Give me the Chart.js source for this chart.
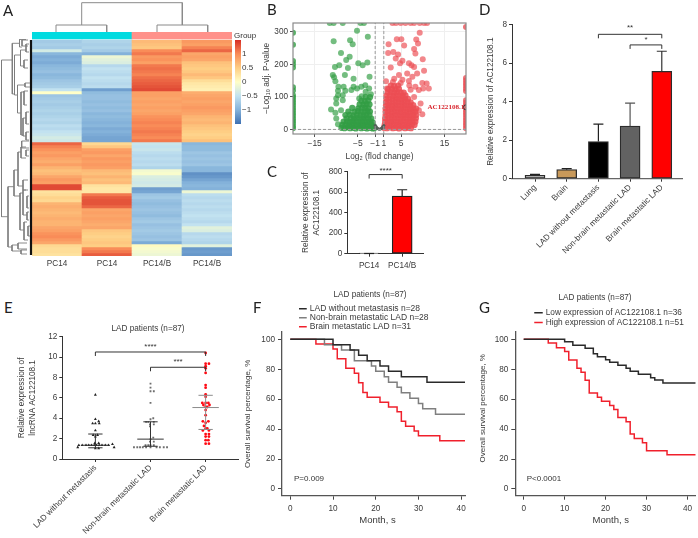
<!DOCTYPE html>
<html>
<head>
<meta charset="utf-8">
<title>AC122108.1</title>
<script src="https://cdn.jsdelivr.net/npm/chart.js@4"></script>
<style>
  body { margin: 0; background: #fff; width: 698px; height: 538px; overflow: hidden; position: relative; }
  canvas { position: absolute; }
  .tag { position: absolute; font-family: "Liberation Sans", sans-serif; color: #333; white-space: nowrap; line-height: 1; }
  .letter { font-family: Lato, sans-serif; font-size: 15px; color: #222; }
</style>
</head>
<body>
<script>
// A: heatmap rows, top to bottom
const heatLabels = ["PC14", "PC14", "PC14/B", "PC14/B"];
const heatCol1 = [-0.75,-0.7,-0.75,-0.35,-0.95,-1.05,-1.0,-1.05,-0.95,-0.9,-0.85,-0.95,-0.9,-0.8,-0.75,-0.7,-0.5,0.0,-0.8,-0.75,-0.7,-0.75,-0.7,-0.65,-0.7,-0.65,-0.6,-0.65,-0.55,-0.6,-0.5,-0.45,-0.35,-0.4,
  1.2,1.05,0.95,0.85,0.9,0.8,0.75,0.85,0.7,0.6,0.65,0.8,0.9,0.85,1.35,1.35,0.3,0.35,0.45,0.4,0.7,0.75,0.7,0.65,0.7,0.75,0.7,0.7,0.8,0.85,0.95,1.0,0.9,0.8,0.4,0.35,0.35,0.3];
const heatCol2 = [-0.65,-0.7,-0.65,-0.75,-1.0,-0.15,-0.25,-0.3,-0.6,-0.5,-0.55,-0.6,-0.5,-0.55,-0.6,-0.55,-1.15,-0.9,-0.85,-0.85,-0.9,-0.85,-0.9,-0.85,-0.95,-0.9,-0.95,-1.0,-0.95,-1.05,-1.0,-1.05,-1.1,-1.1,
  0.4,0.55,0.85,0.9,0.8,0.9,0.85,0.9,0.85,0.65,0.6,0.7,0.6,0.65,0.3,0.25,0.25,1.1,1.25,1.3,1.3,1.2,0.8,0.85,0.8,0.85,0.8,0.75,0.8,0.55,0.5,0.45,0.5,0.55,0.5,1.0,1.1,1.25];
const heatCol3 = [0.65,0.6,0.55,1.0,1.1,0.9,0.95,0.85,1.1,1.15,1.1,1.05,1.15,1.2,1.25,1.3,1.35,0.85,0.85,0.8,0.85,0.8,0.85,0.8,0.85,0.95,1.0,1.05,1.0,1.05,1.1,1.05,1.0,1.1,
  -0.45,-0.5,-0.45,-0.55,-0.6,-0.55,-0.6,-0.55,-0.65,-0.1,-0.05,-0.3,-0.35,-0.4,-0.35,-1.15,-1.1,-0.8,-0.75,-0.85,-0.9,-0.85,-0.8,-0.85,-0.9,-0.8,-0.75,-0.85,-0.8,-0.75,-0.8,-0.85,-0.8,-1.05,0.05,-0.05,-0.1,-0.15];
const heatCol4 = [0.9,0.85,1.05,1.2,0.8,0.85,0.8,0.6,0.55,0.5,0.55,0.65,0.55,0.35,0.25,0.2,0.15,0.75,0.8,0.85,0.8,0.85,0.9,0.85,0.8,0.7,0.65,0.7,0.6,0.55,0.5,0.45,0.5,0.6,
  -0.95,-0.9,-0.9,-0.8,-0.85,-0.8,-0.85,-0.8,-0.95,-0.95,-1.25,-1.2,-1.1,-1.0,-0.95,-1.0,-0.15,-0.55,-0.6,-0.55,-0.6,-0.55,-0.6,-0.55,-0.5,-0.55,-0.6,-0.5,-0.25,-0.3,-0.6,-0.55,-0.6,-0.65,-0.25,-1.2,-1.15,-1.2];
const groupColors = ["#00dbe0", "#00dbe0", "#ff918a", "#ff918a"];
const heatLegendTicks = [1, 0.5, 0, -0.5, -1];

// A: dendrograms, elbows as [stem, from, to, child1, child2]
const rowElbows = [[1.5,60,216.7,12.3,8],[12.3,43.3,94,19.5,14.5],[19.5,39.5,47,26,22],[14.5,55,95,20.5,17.5],[20.5,50,66,26,24],[24,60,68,28,28],[17.5,85,113,25,21],[25,83,87,30,30],[21,92,135,24,23],[24,91,105,28,27],[23,118,136,26,26],[26,112,124,29,29],[26,132,140,29,29],[21.7,141,148,29,29],[22,40,46,28,28],[26,44,52,29,29],
  [8,186.7,247,14,12],[14,170,196,18,20],[18,152,186,21,23],[21,147,158,26,26],[23,180,190,28,28],[20,193,230,23,24],[23,190,215,26,27],[24,222,240,27,28],[12,245,251,18,21],[18,243,249,27,27],[21,250,254,27,27],[26,150,156,29,29],[27,196,208,29,29],[27,212,220,29,29],[28,226,236,30,30]];
const colElbows = [[2.7,81.7,182.3,25,25],[25,56,106.7,32,32],[25,157,207.7,32,32]];

// B: volcano points, [log2 fold change, -log10 p]
const greenSpread = [[-11.5,327],[-10.6,327],[-8.5,327],[-4.4,327],[-3.6,327],[-5.2,303],[-2.7,285],[-10.6,271],[-6.8,274],[-6.2,262],[-8.9,235],[-6.9,223],[-7.7,213],[-4.9,203],[-3.9,197],[-2.8,206],[-9.3,197],[-10.3,192],[-7.3,189],[-8,167],[-10.8,167],[-10.5,160],[-10.2,148],[-6,156],[-2.3,162],[-3.3,136],[-4.2,131],[-6,131],[-6.5,121],[-9.5,131],[-8.3,131],[-7.9,119],[-9.6,119],[-2.4,126],[-3.2,116],[-2,108],[-8.5,105],[-9.6,105],[-5.2,126],[-4.1,102],[-4.7,95],[-10,95],[-8.5,90],[-10,80],[-11.2,61],[-10.2,51],[-8.9,59],[-10,34],[-9.6,16]];
const greenDense = [[-8.8,5],[-8.1,4],[-7.4,6],[-6.8,4],[-6.1,5],[-5.5,3],[-4.8,6],[-4.2,4],[-3.5,5],[-2.9,3],[-2.2,5],[-1.6,3],[-1.2,4],
  [-8.6,14],[-7.8,15],[-7.1,13],[-6.4,15],[-5.8,14],[-5.1,13],[-4.4,15],[-3.8,14],[-3.1,15],[-2.5,13],[-1.9,14],[-1.4,12],
  [-8.3,24],[-7.5,25],[-6.8,23],[-6.1,25],[-5.4,24],[-4.7,23],[-4,25],[-3.3,24],[-2.7,23],[-2.1,25],[-1.6,22],
  [-7.6,34],[-6.6,35],[-5.9,33],[-5.2,35],[-4.5,34],[-3.8,33],[-3.2,35],[-2.6,34],[-1.9,33],
  [-7.9,44],[-6.9,45],[-6,43],[-5.2,45],[-4.4,44],[-3.7,43],[-3,45],[-2.3,44],
  [-7.2,55],[-5.8,54],[-5,56],[-4.2,55],[-3.5,54],[-2.8,56],[-2.2,55],
  [-6.3,66],[-4.9,65],[-4,67],[-3.3,66],[-2.6,65],
  [-4.6,77],[-3.7,76],[-3,78],[-2.3,77],[-4.2,88],[-3.4,87],[-2.6,89],[-3.2,100],[-2.2,99]];
const greenEdge = [[-20,297],[-20,260],[-20,210],[-20,200],[-20,190],[-20,130],[-20,120],[-20,105],[-20,98],[-20,90],[-20,82],[-20,74],[-20,66],[-20,58],[-20,50],[-20,42],[-20,34],[-20,26],[-20,18],[-20,10],[-20,4]];
const redSpread = [[3,327],[3.8,327],[4.9,327],[6,327],[7.2,327],[8,327],[9.3,327],[10.3,327],[11,327],[9.3,297],[4,277],[5.05,277],[8.5,276],[8.9,264],[2.1,262],[5.7,258],[8,247],[8.3,233],[2,235],[3.2,238],[4.3,230],[3.75,218],[10,216],[5.3,211],[6.8,203],[7.4,197],[4.75,203],[2.6,190],[8,192],[10.3,180],[4.5,167],[6.4,172],[8.7,172],[7.6,162],[1.5,148],[3.4,156],[5.3,153],[6.8,149],[9.9,143],[10.9,141],[11.4,126],[8.3,131],[10.1,126],[9.1,121],[1.7,126],[9.9,47],[9.1,59],[9.5,80],[8,100],[7.2,122],[6.9,135],[4.9,143],[3.1,146]];
const redDense = [[1,5],[1.7,4],[2.4,6],[3.1,4],[3.8,5],[4.5,3],[5.2,6],[5.9,4],[6.6,5],[7.3,4],
  [1.2,14],[1.9,15],[2.6,13],[3.3,15],[4,14],[4.7,13],[5.4,15],[6.1,14],[6.8,13],[7.5,15],[8.1,14],
  [1.3,24],[2,25],[2.7,23],[3.4,25],[4.1,24],[4.8,23],[5.5,25],[6.2,24],[6.9,23],[7.6,25],[8.3,24],
  [1.3,34],[2.1,35],[2.8,33],[3.5,35],[4.2,34],[4.9,33],[5.6,35],[6.3,34],[7,33],[7.7,35],[8.4,34],
  [1.4,44],[2.2,45],[2.9,43],[3.6,45],[4.3,44],[5,43],[5.7,45],[6.4,44],[7.1,43],[7.8,45],[8.5,44],
  [1.4,54],[2.1,55],[2.8,53],[3.5,55],[4.2,54],[4.9,53],[5.6,55],[6.3,54],[7,53],[7.7,55],[8.3,54],
  [1.4,64],[2.2,65],[2.9,63],[3.6,65],[4.3,64],[5,63],[5.7,65],[6.4,64],[7.1,63],[7.8,65],[8.5,64],
  [1.5,74],[2.2,75],[2.9,73],[3.6,75],[4.3,74],[5,73],[5.7,75],[6.4,74],[7.1,73],[7.8,75],
  [1.5,84],[2.3,85],[3,83],[3.7,85],[4.4,84],[5.1,83],[5.8,85],[6.5,84],[7.2,83],
  [1.6,94],[2.3,95],[3.1,93],[3.8,95],[4.5,94],[5.2,93],[5.9,95],[6.6,94],
  [1.6,104],[2.4,105],[3.2,103],[3.9,105],[4.6,104],[5.3,103],[6,105],
  [1.9,114],[2.6,115],[3.4,113],[4.1,115],[4.9,114],[5.6,113],
  [2,124],[2.9,125],[3.7,123],[4.5,125],[2.6,135],[3.4,133],[4.3,135]];
const redEdge = [[20,315],[20,158],[20,150],[20,142],[20,134],[20,126],[20,118],[20,90],[20,82],[20,74],[20,60],[20,52],[20,44],[20,36],[20,28],[20,20],[20,12],[20,4]];
const nearZero = [[-1,12],[-0.75,8],[-0.45,3],[-0.15,1],[0.15,1],[0.45,3],[0.75,8],[1,12],[-0.9,5],[0.9,5]];
const marked = [[20,68]];
const bXTicks = [-15, -5, -1, 1, 5, 15];
const bYTicks = [0, 100, 200, 300];

// C
const cLabels = ["PC14", "PC14/B"];
const cValues = [2, 563];
const cUpper = [2, 624];
const cYTicks = [0, 200, 400, 600, 800];

// D
const dLabels = ["Lung", "Brain", "LAD without metastasis", "Non-brain metastatic LAD", "Brain metastatic LAD"];
const dValues = [0.18, 0.47, 1.93, 2.73, 5.58];
const dUpper = [0.22, 0.52, 2.83, 3.93, 6.62];
const dColors = ["#c4c4c4", "#c8995a", "#000000", "#626262", "#ff0000"];
const dYTicks = [0, 2, 4, 6, 8];

// E: each group is [offset from group centre, value]
const eLabels = ["LAD without metastasis", "Non-brain metastatic LAD", "Brain metastatic LAD"];
const eGroup1 = [[0,6.3],[0,3.9],[0.06,3.7],[-0.05,3.5],[0,3.5],[0.07,3.5],[0,2.8],[-0.04,2.35],[0.04,2.35],[0,2.2],[-0.01,1.55],[0.06,1.55],[-0.3,1.35],[-0.24,1.35],[-0.17,1.35],[-0.12,1.35],[-0.07,1.35],[-0.02,1.35],[0.02,1.35],[0.07,1.35],[0.12,1.35],[0.18,1.35],[0.24,1.35],[-0.32,1.15],[0,1.05],[0.06,1.05],[0.34,1.15],[0.31,1.45]];
const eGroup2 = [[0,7.4],[0,7],[0,6.65],[0.06,6.65],[0,5.5],[0.05,4],[0,3.9],[-0.08,3.65],[-0.04,3.65],[0.06,3.65],[-0.01,3.4],[0.06,3.4],[-0.01,3.2],[0.05,2.1],[0,1.95],[-0.01,1.7],[0.06,1.7],[-0.09,1.35],[-0.04,1.35],[0,1.35],[0.06,1.35],[-0.3,1.15],[-0.24,1.15],[-0.19,1.15],[-0.14,1.15],[-0.08,1.15],[0,1.15],[0.11,1.15],[0.17,1.15],[0.24,1.15],[0.3,1.15]];
const eGroup3 = [[0,10.4],[0,9.35],[0.06,9.35],[0,9.1],[0,8.9],[0,8.45],[0,7.25],[0,7],[0,6.35],[0,6.1],[-0.06,5.5],[0,5.5],[0.05,5.5],[-0.04,5.3],[0.07,5.3],[0,5.1],[0.03,5.1],[0,4.8],[0,4.3],[-0.05,3.7],[0.05,3.7],[0,3.55],[-0.03,3.25],[0,3],[0.03,3],[-0.05,2.8],[0.06,2.8],[0,2.45],[0.06,2.45],[0,2.2],[0.06,2.2],[0,1.85],[0.05,1.85],[0,1.5],[0.06,1.5]];
const eMedian = [1.35, 1.95, 5.05];
const eLow = [1.1, 1.25, 2.9];
const eHigh = [2.45, 3.65, 6.25];
const eYTicks = [0, 2, 4, 6, 8, 10, 12];

// F: survival, month at which each level starts
const fMonths1 = [0,10,14,16,18,21,23,26,32,41];
const fSurv1 = [100,96.4,92.9,89.3,85.7,82.1,78.6,75,71.4,71.4];
const fMonths2 = [0,8,12,15,19,20,22,23,25,26,28,30,31,34,41];
const fSurv2 = [100,96.4,92.9,85.7,82.1,78.6,75,71.4,67.9,64.3,60.7,57.1,53.6,50,50];
const fMonths3 = [0,6,10,11,13,15,16,17,18,21,23,25,26,27,29,30,35,41];
const fSurv3 = [100,96.8,93.5,87,80.6,77.4,71,64.5,61.3,58,54.8,51.6,45.2,41.9,38.7,35.5,32.3,32.3];

// G
const gMonths1 = [0,10,12,15,17,18,20,21,23,25,26,28,31,32,34,42];
const gSurv1 = [100,98.4,96,94,90.4,88.4,86.4,84.7,82.7,80.7,78.7,76.7,74.4,72.9,70.9,70.9];
const gMonths2 = [0,6,8,10,11,13,14,15,16,18,19,21,22,23,25,26,27,29,30,35,42];
const gSurv2 = [100,97.5,94.4,91.8,86.2,80.7,78,72.7,64.2,61.3,58.7,55.8,53.1,47.8,44.9,36.7,33.8,30.9,25.6,22.9,22.9];
const monthTicks = [0, 10, 20, 30, 40];
const survTicks = [0, 20, 40, 60, 80, 100];

const FONT = "'Liberation Sans', Arial, sans-serif";
const INK = "#3a3a3a";
Chart.defaults.font.family = FONT;
Chart.defaults.color = INK;

// z score to heatmap colour
const heatStops = [[-1.5,[62,112,178]],[-1,[132,178,218]],[-0.5,[194,226,240]],[0,[255,255,200]],[0.5,[254,206,132]],[1,[249,140,88]],[1.5,[214,46,38]]];
function heatColor(v) {
    for (let i = 1; i < heatStops.length; i++) {
        if (v <= heatStops[i][0]) {
            const a = heatStops[i - 1];
            const b = heatStops[i];
            const t = (v - a[0]) / (b[0] - a[0]);
            const c = a[1].map((n, k) => Math.round(n + (b[1][k] - n) * t));
            return `rgb(${c[0]},${c[1]},${c[2]})`;
        }
    }
    return "rgb(214,46,38)";
}

function pairs(list) {
    return list.map((p) => ({ x: p[0], y: p[1] }));
}

function steps(months, surv) {
    return months.map((m, i) => ({ x: m, y: surv[i] }));
}

// axis with ticks only where asked
function axis(values, extra) {
    const o = Object.assign({
        type: "linear",
        offset: false,
        afterBuildTicks: (s) => { s.ticks = values.map((v) => ({ value: v })); },
        border: { color: "#333", width: 1 },
        grid: { drawOnChartArea: false, offset: false, color: "#333", tickLength: 3 },
    }, extra);
    o.ticks = Object.assign({ autoSkip: false, maxRotation: 0, padding: 2, font: { size: 8.2 }, color: INK }, extra.ticks);
    return o;
}

// puts the plot area at page coordinates
function place(box, plot, cfg) {
    const c = document.createElement("canvas");
    c.width = box.w;
    c.height = box.h;
    c.style.left = box.x + "px";
    c.style.top = box.y + "px";
    document.body.appendChild(c);
    const o = cfg.options;
    o.responsive = false;
    o.animation = false;
    const pad = { left: 0, right: box.x + box.w - plot.r, top: plot.t - box.y, bottom: 0 };
    if (o.scales.x.display === false) {
        pad.bottom = box.y + box.h - plot.b;
    } else {
        o.scales.x.afterFit = (s) => { s.height = box.y + box.h - plot.b; };
    }
    if (o.scales.y.display === false) {
        pad.left = plot.l - box.x;
    } else if (o.scales.y.position === "right") {
        pad.left = plot.l - box.x;
        pad.right = 0;
        o.scales.y.afterFit = (s) => { s.width = box.x + box.w - plot.r; };
    } else {
        o.scales.y.afterFit = (s) => { s.width = plot.l - box.x; };
    }
    o.layout = { padding: pad };
    o.plugins = Object.assign({ legend: { display: false }, tooltip: { enabled: false } }, o.plugins);
    const chart = new Chart(c, cfg);
    const diff = plot.t - box.y - chart.chartArea.top;
    if (Math.abs(diff) > 0.01) {
        chart.options.layout.padding.top += diff;
        chart.update();
    }
    return chart;
}

// moves title and legend where they sit on the page
function placeHead(box, titleX, titleY, legendX, legendY) {
    return {
        id: "placeHead",
        afterLayout(ch) {
            const t = ch.titleBlock;
            t.left = titleX - box.x - t.width / 2;
            t.right = t.left + t.width;
            t.top = titleY - box.y - t.height / 2;
            t.bottom = t.top + t.height;
            const l = ch.legend;
            const w = l.width;
            l.left = legendX - box.x;
            l.right = l.left + w;
            l.top = legendY - box.y;
            l.bottom = l.top + l.height;
        },
    };
}

function upperBars(upper, colors, capWidth) {
    return {
        id: "upperBars",
        afterDatasetsDraw(ch) {
            const ctx = ch.ctx;
            upper.forEach((u, i) => {
                const x = ch.scales.x.getPixelForValue(i);
                const y0 = ch.scales.y.getPixelForValue(ch.data.datasets[0].data[i].y);
                const y1 = ch.scales.y.getPixelForValue(u);
                ctx.save();
                ctx.strokeStyle = colors[i];
                ctx.lineWidth = 1.2;
                ctx.beginPath();
                ctx.moveTo(x, y0);
                ctx.lineTo(x, y1);
                ctx.moveTo(x - capWidth, y1);
                ctx.lineTo(x + capWidth, y1);
                ctx.stroke();
                ctx.restore();
            });
        },
    };
}

function brackets(list) {
    return {
        id: "brackets",
        afterDraw(ch) {
            const ctx = ch.ctx;
            ctx.save();
            ctx.strokeStyle = "#333";
            ctx.fillStyle = "#333";
            ctx.lineWidth = 1;
            ctx.font = "8px " + FONT;
            ctx.textAlign = "center";
            ctx.textBaseline = "middle";
            for (let b of list) {
                const x0 = ch.scales.x.getPixelForValue(b.from);
                const x1 = ch.scales.x.getPixelForValue(b.to);
                const y = ch.scales.y.getPixelForValue(b.at);
                ctx.beginPath();
                ctx.moveTo(x0, y + 4);
                ctx.lineTo(x0, y);
                ctx.lineTo(x1, y);
                ctx.lineTo(x1, y + 4);
                ctx.stroke();
                ctx.fillText(b.label, (x0 + x1) / 2, y - b.lift);
            }
            ctx.restore();
        },
    };
}

const frame = {
    id: "frame",
    afterDatasetsDraw(ch) {
        const a = ch.chartArea;
        ch.ctx.save();
        ch.ctx.strokeStyle = "#8a8a8a";
        ch.ctx.lineWidth = 1.2;
        ch.ctx.strokeRect(a.left, a.top, a.right - a.left, a.bottom - a.top);
        ch.ctx.restore();
    },
};

const iqrLines = {
    id: "iqrLines",
    afterDatasetsDraw(ch) {
        const ctx = ch.ctx;
        const sx = ch.scales.x;
        const sy = ch.scales.y;
        ctx.save();
        ctx.lineWidth = 1;
        eMedian.forEach((m, i) => {
            const x = sx.getPixelForValue(i);
            ctx.strokeStyle = i == 2 ? "#8c8c8c" : "#333";
            ctx.beginPath();
            ctx.moveTo(x, sy.getPixelForValue(eLow[i]));
            ctx.lineTo(x, sy.getPixelForValue(eHigh[i]));
            ctx.moveTo(sx.getPixelForValue(i - 0.24), sy.getPixelForValue(m));
            ctx.lineTo(sx.getPixelForValue(i + 0.24), sy.getPixelForValue(m));
            for (let q of [eLow[i], eHigh[i]]) {
                ctx.moveTo(sx.getPixelForValue(i - 0.13), sy.getPixelForValue(q));
                ctx.lineTo(sx.getPixelForValue(i + 0.13), sy.getPixelForValue(q));
            }
            ctx.stroke();
        });
        ctx.restore();
    },
};

// panel A heatmap
const heatColumns = [heatCol1, heatCol2, heatCol3, heatCol4];
const heatSets = [{
    data: heatLabels.map(() => [-2.667, -0.33]),
    backgroundColor: groupColors,
    grouped: false, barPercentage: 1, categoryPercentage: 1,
}];
for (let r = 0; r < heatCol1.length; r++) {
    heatSets.push({
        data: heatLabels.map(() => [r, r + 1]),
        backgroundColor: heatColumns.map((col) => heatColor(col[r])),
        grouped: false, barPercentage: 1, categoryPercentage: 1,
    });
}
place({ x: 0, y: 25, w: 240, h: 248 }, { l: 32, t: 32, r: 232, b: 256 }, {
    type: "bar",
    data: { labels: heatLabels, datasets: heatSets },
    options: {
        scales: {
            x: {
                grid: { display: false, drawTicks: false }, border: { display: false },
                ticks: { autoSkip: false, maxRotation: 0, padding: 3, font: { size: 8.2 }, color: INK },
            },
            y: { display: false, type: "linear", reverse: true, min: -2.667, max: 72 },
        },
    },
});

// panel A colour key
const keyBox = { x: 230, y: 30, w: 32, h: 100 };
place(keyBox, { l: 235, t: 40, r: 241, b: 124 }, {
    type: "bar",
    data: {
        labels: ["key"],
        datasets: [{
            data: [[-1.5, 1.5]],
            barPercentage: 1, categoryPercentage: 1,
            backgroundColor: (ctx) => {
                const a = ctx.chart.chartArea;
                if (!a) return "#fff";
                const g = ctx.chart.ctx.createLinearGradient(0, a.bottom, 0, a.top);
                heatStops.forEach((s) => g.addColorStop((s[0] + 1.5) / 3, heatColor(s[0])));
                return g;
            },
        }],
    },
    options: {
        scales: {
            x: { display: false },
            y: axis(heatLegendTicks, {
                position: "right", min: -1.5, max: 1.5,
                border: { display: false },
                grid: { display: false, drawTicks: false },
                ticks: { padding: 1, font: { size: 8 }, callback: (v) => String(v).replace("-", "\u2212") },
            }),
        },
    },
});

// panel A dendrograms, data units match the 260 x 270 block
function elbowsToRow(list) {
    const out = [];
    for (let e of list) {
        out.push({ x: e[3], y: e[1] }, { x: e[0], y: e[1] }, { x: e[0], y: e[2] }, { x: e[4], y: e[2] }, { x: NaN, y: NaN });
    }
    return out;
}
function elbowsToCol(list) {
    const out = [];
    for (let e of list) {
        out.push({ x: e[1], y: e[3] }, { x: e[1], y: e[0] }, { x: e[2], y: e[0] }, { x: e[2], y: e[4] }, { x: NaN, y: NaN });
    }
    return out;
}
place({ x: 0, y: 0, w: 260, h: 270 }, { l: 0, t: 0, r: 260, b: 270 }, {
    type: "scatter",
    data: {
        datasets: [
            { data: elbowsToRow(rowElbows), showLine: true, pointRadius: 0, borderColor: "#7d7d7d", borderWidth: 0.9 },
            { data: elbowsToCol(colElbows), showLine: true, pointRadius: 0, borderColor: "#8a8a8a", borderWidth: 1 },
            { data: [{ x: 31, y: 40 }, { x: 31, y: 255 }], showLine: true, pointRadius: 0, borderColor: "#111", borderWidth: 2.2 },
        ],
    },
    options: {
        scales: {
            x: { display: false, type: "linear", min: 0, max: 260 },
            y: { display: false, type: "linear", reverse: true, min: 0, max: 270 },
        },
    },
});

// panel B
function cloud(list, color, r) {
    return { data: pairs(list), backgroundColor: color, borderWidth: 0, pointRadius: r };
}
function dashLine(a, b) {
    return { data: [a, b], showLine: true, pointRadius: 0, borderColor: "#9b9b9b", borderWidth: 1, borderDash: [3, 2] };
}
place({ x: 262, y: 12, w: 215, h: 150 }, { l: 293, t: 23, r: 466, b: 134 }, {
    type: "scatter",
    data: {
        datasets: [
            dashLine({ x: -1, y: -14 }, { x: -1, y: 327 }),
            dashLine({ x: 1, y: -14 }, { x: 1, y: 327 }),
            dashLine({ x: -20, y: 0 }, { x: 20, y: 0 }),
            { data: pairs(marked), backgroundColor: "rgba(255,255,255,0)", borderColor: "#222", borderWidth: 1, pointRadius: 2.5 },
            cloud(nearZero, "#55605a", 1.6),
            cloud(redDense, "rgba(236,78,84,0.85)", 3.1),
            cloud(redSpread, "rgba(236,78,84,0.68)", 3),
            cloud(redEdge, "rgba(236,78,84,0.8)", 3),
            cloud(greenDense, "rgba(50,158,68,0.85)", 3.1),
            cloud(greenSpread, "rgba(50,158,68,0.68)", 3),
            cloud(greenEdge, "rgba(50,158,68,0.8)", 3),
        ],
    },
    options: {
        scales: {
            x: axis(bXTicks, {
                min: -20, max: 20,
                grid: { drawOnChartArea: true, color: "#efefef", tickColor: "#555", tickLength: 3, offset: false },
                border: { display: false },
                title: { display: true, text: "Log\u2082 (flod change)", font: { size: 8.3 }, padding: 0 },
                ticks: { font: { size: 8.5 }, callback: (v) => String(v).replace("-", "\u2212") },
            }),
            y: axis(bYTicks, {
                min: -14, max: 327,
                grid: { drawOnChartArea: true, color: "#efefef", tickColor: "#555", tickLength: 3, offset: false },
                border: { display: false },
                title: { display: true, text: "\u2212Log\u2081\u2080 adj. P-value", font: { size: 8.3 }, padding: 0 },
            }),
        },
    },
    plugins: [frame],
});

// panel C
const cBox = { x: 300, y: 160, w: 135, h: 115 };
place(cBox, { l: 347.3, t: 171.7, r: 423, b: 253.7 }, {
    type: "bar",
    data: {
        datasets: [{
            data: cValues.map((v, i) => ({ x: i, y: v })),
            backgroundColor: ["#ffffff", "#ff0000"],
            borderColor: "#222",
            borderWidth: 1.3,
            borderSkipped: false,
            barThickness: 20,
        }],
    },
    options: {
        scales: {
            x: axis([0, 1], {
                min: -0.66, max: 1.63,
                ticks: { padding: 4, callback: (v) => cLabels[v] },
            }),
            y: axis(cYTicks, {
                min: 0, max: 800,
                title: { display: true, text: ["Relative expression of", "AC122108.1"], font: { size: 8.2, lineHeight: 1.4 }, padding: 0 },
            }),
        },
    },
    plugins: [upperBars(cUpper, ["#222", "#222"], 5), brackets([{ from: 0, to: 1, at: 772, label: "****", lift: 3.5 }])],
});

// panel D
place({ x: 486, y: 10, w: 212, h: 255 }, { l: 512, t: 24.7, r: 682.7, b: 178.7 }, {
    type: "bar",
    data: {
        datasets: [{
            data: dValues.map((v, i) => ({ x: i, y: v })),
            backgroundColor: dColors,
            borderColor: "#2c2c2c",
            borderWidth: 1.3,
            borderSkipped: false,
            barThickness: 20,
        }],
    },
    options: {
        scales: {
            x: axis([0, 1, 2, 3, 4], {
                min: -0.726, max: 4.66,
                border: { color: "#666", width: 1.2 },
                ticks: { minRotation: 45, maxRotation: 45, padding: 1, callback: (v) => dLabels[v] },
            }),
            y: axis(dYTicks, {
                min: 0, max: 8,
                title: { display: true, text: "Relative expression of AC122108.1", font: { size: 8.2 }, padding: 0 },
            }),
        },
    },
    plugins: [
        upperBars(dUpper, ["#222", "#222", "#222", "#555", "#333"], 5),
        brackets([
            { from: 2, to: 4, at: 7.5, label: "**", lift: 6.5 },
            { from: 3, to: 4, at: 6.95, label: "*", lift: 5 },
        ]),
    ],
});

// panel E
const eBox = { x: 16, y: 320, w: 228, h: 218 };
function eSet(list, centre, color, style, r) {
    return {
        data: list.map((p) => ({ x: centre + p[0], y: p[1] })),
        backgroundColor: color, borderWidth: 0, pointStyle: style, pointRadius: r,
    };
}
place(eBox, { l: 62.3, t: 336.7, r: 238.7, b: 459 }, {
    type: "scatter",
    data: {
        datasets: [
            eSet(eGroup1, 0, "#222", "triangle", 1.7),
            eSet(eGroup2, 1, "#6e6e6e", "rect", 1.3),
            eSet(eGroup3, 2, "#ff0a14", "circle", 1.4),
        ],
    },
    options: {
        plugins: { title: { display: true, text: "LAD patients (n=87)", font: { size: 8.2, weight: "normal" }, padding: 0 } },
        scales: {
            x: axis([0, 1, 2], {
                min: -0.6, max: 2.6,
                ticks: { minRotation: 45, maxRotation: 45, padding: 1, callback: (v) => eLabels[v] },
            }),
            y: axis(eYTicks, {
                min: 0, max: 12,
                title: { display: true, text: ["Relative expression of", "lncRNA AC122108.1"], font: { size: 8.2, lineHeight: 1.4 }, padding: 0 },
            }),
        },
    },
    plugins: [
        iqrLines,
        placeHead(eBox, 148, 329, 0, 0),
        brackets([
            { from: 0, to: 2, at: 10.5, label: "****", lift: 5.5 },
            { from: 1, to: 2, at: 9, label: "***", lift: 5 },
        ]),
    ],
});

// panels F and G
function curve(label, months, surv, color) {
    return { label: label, data: steps(months, surv), stepped: true, borderColor: color, backgroundColor: color, borderWidth: 1.5, pointRadius: 0 };
}
function survivalChart(box, plot, xMin, xMax, sets, head, monthTitle, survTitle, legendFont) {
    return place(box, plot, {
        type: "line",
        data: { datasets: sets },
        options: {
            plugins: {
                title: { display: true, text: "LAD patients (n=87)", font: { size: 8.2, weight: "normal" }, padding: 0 },
                legend: {
                    display: true, position: "top", align: "start",
                    labels: {
                        usePointStyle: true, pointStyle: "line", boxWidth: 6, boxHeight: 6, padding: head[4],
                        font: { size: legendFont, lineHeight: 1 }, color: INK,
                    },
                },
            },
            scales: {
                x: axis(monthTicks, {
                    min: xMin, max: xMax,
                    border: { color: "#555", width: 1.3 },
                    grid: { drawOnChartArea: false, offset: false, color: "#444", tickLength: 4 },
                    title: { display: true, text: monthTitle, font: { size: 9.5 }, padding: 0 },
                    ticks: { padding: 4 },
                }),
                y: axis(survTicks, {
                    min: -4.5, max: 104.9,
                    border: { color: "#555", width: 1.3 },
                    grid: { drawOnChartArea: false, offset: false, color: "#444", tickLength: 4 },
                    title: { display: true, text: survTitle, font: { size: 8 }, padding: 0 },
                    ticks: { padding: 3 },
                }),
            },
        },
        plugins: [placeHead(box, head[0], head[1], head[2], head[3])],
    });
}
survivalChart({ x: 243, y: 285, w: 227, h: 241 }, { l: 282, t: 332, r: 465, b: 495.7 }, -1.94, 40.9, [
    curve("LAD without metastasis n=28", fMonths1, fSurv1, "#2a2a2a"),
    curve("Non-brain metastatic LAD n=28", fMonths2, fSurv2, "#7f7f7f"),
    curve("Brain metastatic LAD n=31", fMonths3, fSurv3, "#f0202c"),
], [370, 295, 299, 304, 0.5], "   Month, s", "Overall survival percentage, %", 8.5);
survivalChart({ x: 478, y: 285, w: 220, h: 241 }, { l: 515.3, t: 332, r: 695.7, b: 495.7 }, -2.05, 42, [
    curve("Low expression of AC122108.1 n=36", gMonths1, gSurv1, "#2a2a2a"),
    curve("High expression of AC122108.1 n=51", gMonths2, gSurv2, "#f0202c"),
], [595, 298, 534, 307, 1.5], "    Month, s", "     Overall survival percentage, %", 8.3);

// free text
const tags = [
    ["A", 3, 3, "letter"], ["B", 267, 2, "letter"], ["C", 267, 164, "letter"], ["D", 479, 2, "letter"],
    ["E", 4, 300, "letter"], ["F", 253, 300, "letter"], ["G", 479, 300, "letter"],
    ["Group", 234, 32, ""], ["P=0.009", 294, 475, ""], ["P<0.0001", 526.7, 475, ""],
];
for (let t of tags) {
    const d = document.createElement("div");
    d.className = "tag " + t[3];
    d.textContent = t[0];
    d.style.left = t[1] + "px";
    d.style.top = t[2] + "px";
    if (!t[3]) d.style.fontSize = "8px";
    document.body.appendChild(d);
}
// gene label next to its point in the volcano plot
const gene = document.createElement("div");
gene.className = "tag";
gene.textContent = "AC122108.1";
gene.style.cssText = "left:427.5px;top:103px;font:bold 7.1px 'Liberation Serif',serif;color:#d9262e;";
document.body.appendChild(gene);
</script>
</body>
</html>
